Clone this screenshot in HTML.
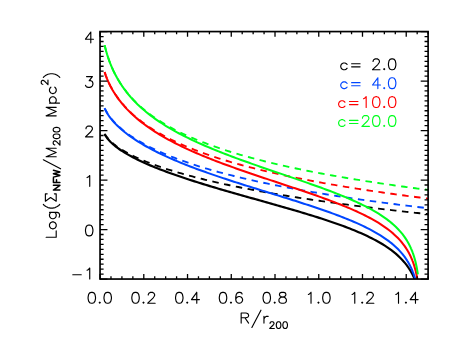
<!DOCTYPE html>
<html><head><meta charset="utf-8"><style>
html,body{margin:0;padding:0;background:#fff;}
svg{display:block;font-family:"Liberation Sans",sans-serif;}
</style></head><body>
<svg width="458" height="343" viewBox="0 0 458 343">
<rect width="458" height="343" fill="#fff"/>
<clipPath id="cp"><rect x="100.05" y="31.58" width="328.05" height="247.47"/></clipPath>
<g clip-path="url(#cp)" stroke-linecap="butt" stroke-linejoin="round">
<path d="M104.61,133.75 L104.87,134.19 L105.97,135.87 L107.06,137.35 L108.15,138.66 L109.25,139.87 L110.34,140.98 L111.44,142.02 L112.53,142.99 L113.62,143.92 L114.72,144.80 L115.81,145.64 L116.90,146.44 L118.00,147.21 L119.09,147.96 L120.18,148.68 L121.28,149.38 L122.37,150.06 L124.56,151.36 L126.74,152.59 L128.93,153.77 L131.12,154.89 L133.30,155.98 L135.49,157.02 L137.68,158.02 L139.87,158.99 L142.05,159.94 L144.24,160.85 L146.43,161.74 L148.61,162.60 L150.80,163.44 L152.99,164.26 L155.17,165.07 L157.36,165.85 L159.55,166.61 L161.74,167.36 L163.92,168.09 L166.11,168.81 L168.30,169.51 L170.48,170.20 L172.67,170.88 L174.86,171.55 L177.04,172.20 L179.23,172.84 L181.42,173.47 L183.61,174.09 L185.79,174.70 L187.98,175.30 L190.17,175.89 L192.35,176.47 L194.54,177.05 L196.73,177.61 L198.91,178.17 L201.10,178.72 L203.29,179.26 L205.48,179.79 L207.66,180.32 L209.85,180.84 L212.04,181.35 L214.22,181.85 L216.41,182.35 L218.60,182.85 L220.78,183.33 L222.97,183.82 L225.16,184.29 L227.35,184.76 L229.53,185.23 L231.72,185.69 L233.91,186.14 L236.09,186.59 L238.28,187.03 L240.47,187.47 L242.65,187.91 L244.84,188.34 L247.03,188.76 L249.22,189.18 L251.40,189.60 L253.59,190.01 L255.78,190.42 L257.96,190.82 L260.15,191.22 L262.34,191.62 L264.52,192.01 L266.71,192.40 L268.90,192.79 L271.09,193.17 L273.27,193.55 L275.46,193.92 L277.65,194.29 L279.83,194.66 L282.02,195.03 L284.21,195.39 L286.39,195.75 L288.58,196.10 L290.77,196.45 L292.96,196.80 L295.14,197.15 L297.33,197.49 L299.52,197.83 L301.70,198.17 L303.89,198.51 L306.08,198.84 L308.26,199.17 L310.45,199.50 L312.64,199.82 L314.83,200.14 L317.01,200.46 L319.20,200.78 L321.39,201.10 L323.57,201.41 L325.76,201.72 L327.95,202.03 L330.13,202.33 L332.32,202.64 L334.51,202.94 L336.70,203.24 L338.88,203.53 L341.07,203.83 L343.26,204.12 L345.44,204.41 L347.63,204.70 L349.82,204.99 L352.00,205.27 L354.19,205.56 L356.38,205.84 L358.57,206.12 L360.75,206.39 L362.94,206.67 L365.13,206.94 L367.31,207.22 L369.50,207.49 L371.69,207.75 L373.87,208.02 L376.06,208.29 L378.25,208.55 L380.44,208.81 L382.62,209.07 L384.81,209.33 L387.00,209.59 L389.18,209.84 L391.37,210.10 L393.56,210.35 L395.74,210.60 L397.93,210.85 L400.12,211.10 L402.31,211.35 L404.49,211.59 L406.68,211.84 L408.87,212.08 L411.05,212.32 L413.24,212.56 L415.43,212.80 L417.61,213.03 L419.80,213.27 L421.99,213.50 L424.18,213.74 L426.36,213.97 L428.55,214.20" stroke="#000000" stroke-dasharray="6.5,5.5" fill="none" stroke-width="1.85"/>
<path d="M104.61,134.27 L104.87,134.73 L105.97,136.46 L107.06,137.97 L108.15,139.33 L109.25,140.57 L110.34,141.72 L111.44,142.80 L112.53,143.81 L113.62,144.77 L114.72,145.68 L115.81,146.56 L116.90,147.40 L118.00,148.21 L119.09,148.99 L120.18,149.75 L121.28,150.49 L122.37,151.20 L124.56,152.57 L126.74,153.88 L128.93,155.13 L131.12,156.33 L133.30,157.49 L135.49,158.61 L137.68,159.70 L139.87,160.75 L142.05,161.77 L144.24,162.77 L146.43,163.74 L148.61,164.69 L150.80,165.62 L152.99,166.53 L155.17,167.43 L157.36,168.30 L159.55,169.16 L161.74,170.00 L163.92,170.84 L166.11,171.65 L168.30,172.46 L170.48,173.25 L172.67,174.03 L174.86,174.80 L177.04,175.56 L179.23,176.32 L181.42,177.06 L183.61,177.79 L185.79,178.52 L187.98,179.24 L190.17,179.95 L192.35,180.66 L194.54,181.35 L196.73,182.05 L198.91,182.73 L201.10,183.41 L203.29,184.09 L205.48,184.76 L207.66,185.42 L209.85,186.08 L212.04,186.74 L214.22,187.39 L216.41,188.04 L218.60,188.69 L220.78,189.33 L222.97,189.97 L225.16,190.60 L227.35,191.23 L229.53,191.87 L231.72,192.49 L233.91,193.12 L236.09,193.74 L238.28,194.36 L240.47,194.98 L242.65,195.60 L244.84,196.22 L247.03,196.84 L249.22,197.45 L251.40,198.07 L253.59,198.68 L255.78,199.30 L257.96,199.91 L260.15,200.52 L262.34,201.14 L264.52,201.75 L266.71,202.37 L268.90,202.98 L271.09,203.60 L273.27,204.22 L275.46,204.84 L277.65,205.46 L279.83,206.08 L282.02,206.70 L284.21,207.33 L286.39,207.96 L288.58,208.59 L290.77,209.22 L292.96,209.86 L295.14,210.50 L297.33,211.15 L299.52,211.79 L301.70,212.45 L303.89,213.10 L306.08,213.76 L308.26,214.43 L310.45,215.10 L312.64,215.78 L314.83,216.46 L317.01,217.15 L319.20,217.84 L321.39,218.55 L323.57,219.26 L325.76,219.98 L327.95,220.70 L330.13,221.44 L332.32,222.19 L334.51,222.94 L336.70,223.71 L338.88,224.49 L341.07,225.28 L343.26,226.08 L345.44,226.90 L347.63,227.73 L349.82,228.58 L352.00,229.45 L354.19,230.33 L356.38,231.24 L358.57,232.16 L360.75,233.11 L362.94,234.08 L365.13,235.07 L367.31,236.10 L369.50,237.15 L371.69,238.24 L373.87,239.37 L376.06,240.53 L378.25,241.74 L380.44,242.99 L382.62,244.30 L384.81,245.67 L387.00,247.10 L389.18,248.61 L391.37,250.20 L393.56,251.89 L395.74,253.68 L397.93,255.61 L400.12,257.68 L402.31,259.94 L404.49,262.41 L406.68,265.16 L406.68,265.16 L406.79,265.31 L406.90,265.45 L407.01,265.60 L407.12,265.75 L407.23,265.90 L407.34,266.05 L407.45,266.20 L407.55,266.35 L407.66,266.50 L407.77,266.66 L407.88,266.81 L407.99,266.97 L408.10,267.13 L408.21,267.28 L408.32,267.44 L408.43,267.60 L408.54,267.76 L408.65,267.93 L408.76,268.09 L408.87,268.25 L408.98,268.42 L409.09,268.59 L409.20,268.75 L409.30,268.92 L409.41,269.09 L409.52,269.26 L409.63,269.44 L409.74,269.61 L409.85,269.79 L409.96,269.96 L410.07,270.14 L410.18,270.32 L410.29,270.50 L410.40,270.68 L410.51,270.86 L410.62,271.05 L410.73,271.23 L410.84,271.42 L410.94,271.61 L411.05,271.80 L411.16,271.99 L411.27,272.19 L411.38,272.38 L411.49,272.58 L411.60,272.78 L411.71,272.98 L411.82,273.18 L411.93,273.38 L412.04,273.59 L412.15,273.80 L412.26,274.01 L412.37,274.22 L412.48,274.43 L412.58,274.64 L412.69,274.86 L412.80,275.08 L412.91,275.30 L413.02,275.52 L413.13,275.75 L413.24,275.98 L413.35,276.20 L413.46,276.44 L413.57,276.67 L413.68,276.91 L413.79,277.15 L413.90,277.39 L414.01,277.63 L414.12,277.88 L414.23,278.13 L414.33,278.38 L414.44,278.63 L414.55,278.89 L414.66,279.15 L414.77,279.42 L414.88,279.68 L414.99,279.95 L415.10,280.22 L415.21,280.50 L415.32,280.78 L415.43,281.06 L415.54,281.35 L415.65,281.64 L415.76,281.93 L415.87,282.23 L415.97,282.53 L416.08,282.84 L416.19,283.15 L416.30,283.46 L416.41,283.78 L416.52,284.10 L416.63,284.43 L416.74,284.76 L416.85,285.10 L416.96,285.44 L417.07,285.79 L417.18,286.14 L417.29,286.50 L417.40,286.86 L417.51,287.23 L417.61,287.61 L417.72,287.99 L417.83,288.38" stroke="#000000" fill="none" stroke-width="2.2"/>
<path d="M104.61,108.10 L104.87,108.67 L105.97,110.82 L107.06,112.72 L108.15,114.44 L109.25,116.02 L110.34,117.48 L111.44,118.86 L112.53,120.16 L113.62,121.39 L114.72,122.57 L115.81,123.70 L116.90,124.78 L118.00,125.82 L119.09,126.82 L120.18,127.80 L121.28,128.74 L122.37,129.65 L124.56,131.40 L126.74,133.07 L128.93,134.65 L131.12,136.16 L133.30,137.61 L135.49,139.01 L137.68,140.35 L139.87,141.64 L142.05,142.89 L144.24,144.10 L146.43,145.28 L148.61,146.41 L150.80,147.52 L152.99,148.59 L155.17,149.64 L157.36,150.66 L159.55,151.65 L161.74,152.62 L163.92,153.56 L166.11,154.49 L168.30,155.39 L170.48,156.27 L172.67,157.14 L174.86,157.98 L177.04,158.81 L179.23,159.63 L181.42,160.42 L183.61,161.20 L185.79,161.97 L187.98,162.72 L190.17,163.46 L192.35,164.19 L194.54,164.90 L196.73,165.60 L198.91,166.29 L201.10,166.97 L203.29,167.64 L205.48,168.30 L207.66,168.95 L209.85,169.58 L212.04,170.21 L214.22,170.83 L216.41,171.44 L218.60,172.04 L220.78,172.63 L222.97,173.21 L225.16,173.79 L227.35,174.36 L229.53,174.92 L231.72,175.47 L233.91,176.02 L236.09,176.56 L238.28,177.09 L240.47,177.61 L242.65,178.13 L244.84,178.65 L247.03,179.15 L249.22,179.65 L251.40,180.15 L253.59,180.64 L255.78,181.12 L257.96,181.60 L260.15,182.07 L262.34,182.54 L264.52,183.00 L266.71,183.46 L268.90,183.91 L271.09,184.36 L273.27,184.80 L275.46,185.24 L277.65,185.67 L279.83,186.10 L282.02,186.53 L284.21,186.95 L286.39,187.37 L288.58,187.78 L290.77,188.19 L292.96,188.59 L295.14,189.00 L297.33,189.39 L299.52,189.79 L301.70,190.18 L303.89,190.56 L306.08,190.95 L308.26,191.33 L310.45,191.70 L312.64,192.08 L314.83,192.45 L317.01,192.81 L319.20,193.18 L321.39,193.54 L323.57,193.89 L325.76,194.25 L327.95,194.60 L330.13,194.95 L332.32,195.29 L334.51,195.64 L336.70,195.98 L338.88,196.32 L341.07,196.65 L343.26,196.98 L345.44,197.31 L347.63,197.64 L349.82,197.96 L352.00,198.29 L354.19,198.61 L356.38,198.92 L358.57,199.24 L360.75,199.55 L362.94,199.86 L365.13,200.17 L367.31,200.48 L369.50,200.78 L371.69,201.08 L373.87,201.38 L376.06,201.68 L378.25,201.98 L380.44,202.27 L382.62,202.56 L384.81,202.85 L387.00,203.14 L389.18,203.42 L391.37,203.71 L393.56,203.99 L395.74,204.27 L397.93,204.55 L400.12,204.83 L402.31,205.10 L404.49,205.37 L406.68,205.64 L408.87,205.91 L411.05,206.18 L413.24,206.45 L415.43,206.71 L417.61,206.98 L419.80,207.24 L421.99,207.50 L424.18,207.75 L426.36,208.01 L428.55,208.27" stroke="#0046ff" stroke-dasharray="6.5,5.5" fill="none" stroke-width="1.85"/>
<path d="M104.61,108.32 L104.87,108.89 L105.97,111.06 L107.06,112.98 L108.15,114.72 L109.25,116.32 L110.34,117.81 L111.44,119.21 L112.53,120.53 L113.62,121.79 L114.72,122.99 L115.81,124.14 L116.90,125.24 L118.00,126.31 L119.09,127.34 L120.18,128.33 L121.28,129.30 L122.37,130.24 L124.56,132.04 L126.74,133.75 L128.93,135.39 L131.12,136.96 L133.30,138.46 L135.49,139.92 L137.68,141.32 L139.87,142.67 L142.05,143.99 L144.24,145.26 L146.43,146.50 L148.61,147.71 L150.80,148.88 L152.99,150.03 L155.17,151.15 L157.36,152.24 L159.55,153.32 L161.74,154.36 L163.92,155.39 L166.11,156.40 L168.30,157.39 L170.48,158.36 L172.67,159.31 L174.86,160.25 L177.04,161.18 L179.23,162.08 L181.42,162.98 L183.61,163.86 L185.79,164.73 L187.98,165.59 L190.17,166.44 L192.35,167.27 L194.54,168.10 L196.73,168.92 L198.91,169.72 L201.10,170.52 L203.29,171.31 L205.48,172.09 L207.66,172.87 L209.85,173.63 L212.04,174.39 L214.22,175.15 L216.41,175.90 L218.60,176.64 L220.78,177.37 L222.97,178.10 L225.16,178.83 L227.35,179.55 L229.53,180.27 L231.72,180.98 L233.91,181.69 L236.09,182.39 L238.28,183.09 L240.47,183.79 L242.65,184.48 L244.84,185.17 L247.03,185.86 L249.22,186.55 L251.40,187.24 L253.59,187.92 L255.78,188.60 L257.96,189.28 L260.15,189.96 L262.34,190.64 L264.52,191.31 L266.71,191.99 L268.90,192.67 L271.09,193.34 L273.27,194.02 L275.46,194.70 L277.65,195.37 L279.83,196.05 L282.02,196.73 L284.21,197.41 L286.39,198.10 L288.58,198.78 L290.77,199.47 L292.96,200.16 L295.14,200.85 L297.33,201.54 L299.52,202.24 L301.70,202.94 L303.89,203.65 L306.08,204.36 L308.26,205.07 L310.45,205.79 L312.64,206.52 L314.83,207.25 L317.01,207.98 L319.20,208.72 L321.39,209.47 L323.57,210.23 L325.76,211.00 L327.95,211.77 L330.13,212.55 L332.32,213.35 L334.51,214.15 L336.70,214.96 L338.88,215.79 L341.07,216.63 L343.26,217.48 L345.44,218.35 L347.63,219.23 L349.82,220.13 L352.00,221.04 L354.19,221.98 L356.38,222.93 L358.57,223.91 L360.75,224.92 L362.94,225.94 L365.13,227.00 L367.31,228.08 L369.50,229.20 L371.69,230.36 L373.87,231.55 L376.06,232.79 L378.25,234.08 L380.44,235.42 L382.62,236.81 L384.81,238.28 L387.00,239.82 L389.18,241.44 L391.37,243.16 L393.56,244.99 L395.74,246.95 L397.93,249.07 L400.12,251.37 L402.31,253.89 L404.49,256.69 L406.68,259.84 L406.68,259.84 L406.79,260.01 L406.90,260.18 L407.01,260.35 L407.12,260.53 L407.23,260.70 L407.34,260.87 L407.45,261.05 L407.55,261.23 L407.66,261.41 L407.77,261.59 L407.88,261.77 L407.99,261.95 L408.10,262.14 L408.21,262.32 L408.32,262.51 L408.43,262.70 L408.54,262.89 L408.65,263.08 L408.76,263.27 L408.87,263.47 L408.98,263.66 L409.09,263.86 L409.20,264.06 L409.30,264.26 L409.41,264.46 L409.52,264.67 L409.63,264.88 L409.74,265.08 L409.85,265.29 L409.96,265.51 L410.07,265.72 L410.18,265.94 L410.29,266.15 L410.40,266.37 L410.51,266.59 L410.62,266.82 L410.73,267.04 L410.84,267.27 L410.94,267.50 L411.05,267.74 L411.16,267.97 L411.27,268.21 L411.38,268.45 L411.49,268.69 L411.60,268.94 L411.71,269.18 L411.82,269.43 L411.93,269.69 L412.04,269.94 L412.15,270.20 L412.26,270.46 L412.37,270.73 L412.48,270.99 L412.58,271.27 L412.69,271.54 L412.80,271.82 L412.91,272.10 L413.02,272.38 L413.13,272.67 L413.24,272.96 L413.35,273.25 L413.46,273.55 L413.57,273.85 L413.68,274.16 L413.79,274.47 L413.90,274.79 L414.01,275.11 L414.12,275.43 L414.23,275.76 L414.33,276.09 L414.44,276.43 L414.55,276.77 L414.66,277.12 L414.77,277.47 L414.88,277.83 L414.99,278.20 L415.10,278.57 L415.21,278.95 L415.32,279.33 L415.43,279.72 L415.54,280.12 L415.65,280.52 L415.76,280.94 L415.87,281.36 L415.97,281.78 L416.08,282.22 L416.19,282.66 L416.30,283.12 L416.41,283.58 L416.52,284.05 L416.63,284.53 L416.74,285.03 L416.85,285.53 L416.96,286.04 L417.07,286.57 L417.18,287.11 L417.29,287.67 L417.40,288.24 L417.51,288.82 L417.61,289.42 L417.72,290.03 L417.83,290.67" stroke="#0046ff" fill="none" stroke-width="2.05"/>
<path d="M104.61,72.06 L104.87,72.87 L105.97,76.00 L107.06,78.79 L108.15,81.33 L109.25,83.66 L110.34,85.84 L111.44,87.88 L112.53,89.80 L113.62,91.63 L114.72,93.36 L115.81,95.01 L116.90,96.60 L118.00,98.11 L119.09,99.58 L120.18,100.98 L121.28,102.34 L122.37,103.65 L124.56,106.15 L126.74,108.50 L128.93,110.72 L131.12,112.83 L133.30,114.83 L135.49,116.74 L137.68,118.56 L139.87,120.31 L142.05,121.98 L144.24,123.59 L146.43,125.15 L148.61,126.64 L150.80,128.09 L152.99,129.48 L155.17,130.84 L157.36,132.15 L159.55,133.42 L161.74,134.65 L163.92,135.85 L166.11,137.01 L168.30,138.15 L170.48,139.25 L172.67,140.33 L174.86,141.38 L177.04,142.40 L179.23,143.40 L181.42,144.38 L183.61,145.34 L185.79,146.27 L187.98,147.19 L190.17,148.08 L192.35,148.96 L194.54,149.82 L196.73,150.66 L198.91,151.49 L201.10,152.30 L203.29,153.09 L205.48,153.87 L207.66,154.64 L209.85,155.39 L212.04,156.14 L214.22,156.86 L216.41,157.58 L218.60,158.28 L220.78,158.97 L222.97,159.66 L225.16,160.33 L227.35,160.99 L229.53,161.64 L231.72,162.28 L233.91,162.91 L236.09,163.53 L238.28,164.14 L240.47,164.75 L242.65,165.34 L244.84,165.93 L247.03,166.51 L249.22,167.08 L251.40,167.65 L253.59,168.21 L255.78,168.76 L257.96,169.30 L260.15,169.84 L262.34,170.37 L264.52,170.89 L266.71,171.41 L268.90,171.92 L271.09,172.42 L273.27,172.92 L275.46,173.41 L277.65,173.90 L279.83,174.38 L282.02,174.86 L284.21,175.33 L286.39,175.80 L288.58,176.26 L290.77,176.72 L292.96,177.17 L295.14,177.61 L297.33,178.06 L299.52,178.49 L301.70,178.93 L303.89,179.36 L306.08,179.78 L308.26,180.20 L310.45,180.62 L312.64,181.03 L314.83,181.44 L317.01,181.84 L319.20,182.25 L321.39,182.64 L323.57,183.04 L325.76,183.43 L327.95,183.81 L330.13,184.20 L332.32,184.58 L334.51,184.95 L336.70,185.33 L338.88,185.70 L341.07,186.06 L343.26,186.43 L345.44,186.79 L347.63,187.14 L349.82,187.50 L352.00,187.85 L354.19,188.20 L356.38,188.54 L358.57,188.89 L360.75,189.23 L362.94,189.57 L365.13,189.90 L367.31,190.23 L369.50,190.56 L371.69,190.89 L373.87,191.22 L376.06,191.54 L378.25,191.86 L380.44,192.18 L382.62,192.49 L384.81,192.81 L387.00,193.12 L389.18,193.43 L391.37,193.73 L393.56,194.04 L395.74,194.34 L397.93,194.64 L400.12,194.94 L402.31,195.23 L404.49,195.53 L406.68,195.82 L408.87,196.11 L411.05,196.40 L413.24,196.68 L415.43,196.97 L417.61,197.25 L419.80,197.53 L421.99,197.81 L424.18,198.09 L426.36,198.36 L428.55,198.64" stroke="#ff0000" stroke-dasharray="6.5,5.5" fill="none" stroke-width="1.85"/>
<path d="M104.61,72.12 L104.87,72.94 L105.97,76.07 L107.06,78.88 L108.15,81.42 L109.25,83.77 L110.34,85.96 L111.44,88.01 L112.53,89.95 L113.62,91.78 L114.72,93.53 L115.81,95.19 L116.90,96.79 L118.00,98.32 L119.09,99.80 L120.18,101.22 L121.28,102.59 L122.37,103.92 L124.56,106.45 L126.74,108.84 L128.93,111.10 L131.12,113.24 L133.30,115.29 L135.49,117.24 L137.68,119.11 L139.87,120.90 L142.05,122.63 L144.24,124.29 L146.43,125.89 L148.61,127.45 L150.80,128.95 L152.99,130.40 L155.17,131.82 L157.36,133.19 L159.55,134.52 L161.74,135.82 L163.92,137.09 L166.11,138.33 L168.30,139.54 L170.48,140.72 L172.67,141.87 L174.86,143.00 L177.04,144.11 L179.23,145.20 L181.42,146.26 L183.61,147.31 L185.79,148.33 L187.98,149.34 L190.17,150.33 L192.35,151.31 L194.54,152.27 L196.73,153.22 L198.91,154.15 L201.10,155.07 L203.29,155.98 L205.48,156.87 L207.66,157.76 L209.85,158.63 L212.04,159.49 L214.22,160.35 L216.41,161.19 L218.60,162.03 L220.78,162.85 L222.97,163.67 L225.16,164.48 L227.35,165.29 L229.53,166.08 L231.72,166.87 L233.91,167.66 L236.09,168.44 L238.28,169.21 L240.47,169.98 L242.65,170.74 L244.84,171.50 L247.03,172.25 L249.22,173.00 L251.40,173.75 L253.59,174.49 L255.78,175.23 L257.96,175.97 L260.15,176.71 L262.34,177.44 L264.52,178.17 L266.71,178.90 L268.90,179.62 L271.09,180.35 L273.27,181.08 L275.46,181.80 L277.65,182.53 L279.83,183.25 L282.02,183.97 L284.21,184.70 L286.39,185.42 L288.58,186.15 L290.77,186.88 L292.96,187.61 L295.14,188.34 L297.33,189.07 L299.52,189.81 L301.70,190.55 L303.89,191.29 L306.08,192.03 L308.26,192.78 L310.45,193.54 L312.64,194.30 L314.83,195.06 L317.01,195.83 L319.20,196.60 L321.39,197.39 L323.57,198.17 L325.76,198.97 L327.95,199.78 L330.13,200.59 L332.32,201.41 L334.51,202.24 L336.70,203.09 L338.88,203.94 L341.07,204.81 L343.26,205.69 L345.44,206.58 L347.63,207.49 L349.82,208.42 L352.00,209.36 L354.19,210.33 L356.38,211.31 L358.57,212.31 L360.75,213.34 L362.94,214.40 L365.13,215.48 L367.31,216.59 L369.50,217.74 L371.69,218.92 L373.87,220.15 L376.06,221.41 L378.25,222.73 L380.44,224.10 L382.62,225.53 L384.81,227.03 L387.00,228.60 L389.18,230.26 L391.37,232.02 L393.56,233.89 L395.74,235.90 L397.93,238.06 L400.12,240.42 L402.31,243.01 L404.49,245.89 L406.68,249.14 L406.68,249.14 L406.79,249.32 L406.90,249.49 L407.01,249.67 L407.12,249.85 L407.23,250.03 L407.34,250.21 L407.45,250.39 L407.55,250.57 L407.66,250.76 L407.77,250.94 L407.88,251.13 L407.99,251.32 L408.10,251.51 L408.21,251.70 L408.32,251.90 L408.43,252.09 L408.54,252.29 L408.65,252.49 L408.76,252.69 L408.87,252.89 L408.98,253.10 L409.09,253.30 L409.20,253.51 L409.30,253.72 L409.41,253.93 L409.52,254.14 L409.63,254.36 L409.74,254.57 L409.85,254.79 L409.96,255.01 L410.07,255.23 L410.18,255.46 L410.29,255.69 L410.40,255.91 L410.51,256.15 L410.62,256.38 L410.73,256.61 L410.84,256.85 L410.94,257.09 L411.05,257.34 L411.16,257.58 L411.27,257.83 L411.38,258.08 L411.49,258.34 L411.60,258.59 L411.71,258.85 L411.82,259.11 L411.93,259.38 L412.04,259.65 L412.15,259.92 L412.26,260.19 L412.37,260.47 L412.48,260.75 L412.58,261.04 L412.69,261.32 L412.80,261.62 L412.91,261.91 L413.02,262.21 L413.13,262.51 L413.24,262.82 L413.35,263.13 L413.46,263.45 L413.57,263.77 L413.68,264.09 L413.79,264.42 L413.90,264.76 L414.01,265.10 L414.12,265.44 L414.23,265.79 L414.33,266.14 L414.44,266.50 L414.55,266.87 L414.66,267.24 L414.77,267.62 L414.88,268.00 L414.99,268.39 L415.10,268.79 L415.21,269.20 L415.32,269.61 L415.43,270.03 L415.54,270.46 L415.65,270.89 L415.76,271.34 L415.87,271.79 L415.97,272.26 L416.08,272.73 L416.19,273.21 L416.30,273.71 L416.41,274.21 L416.52,274.73 L416.63,275.26 L416.74,275.80 L416.85,276.35 L416.96,276.92 L417.07,277.51 L417.18,278.10 L417.29,278.72 L417.40,279.35 L417.51,280.01 L417.61,280.68 L417.72,281.37 L417.83,282.09" stroke="#ff0000" fill="none" stroke-width="2.05"/>
<path d="M104.61,45.18 L104.87,46.28 L105.97,50.49 L107.06,54.24 L108.15,57.63 L109.25,60.73 L110.34,63.60 L111.44,66.27 L112.53,68.76 L113.62,71.11 L114.72,73.34 L115.81,75.44 L116.90,77.44 L118.00,79.35 L119.09,81.17 L120.18,82.92 L121.28,84.60 L122.37,86.21 L124.56,89.26 L126.74,92.10 L128.93,94.76 L131.12,97.26 L133.30,99.63 L135.49,101.87 L137.68,103.99 L139.87,106.02 L142.05,107.95 L144.24,109.80 L146.43,111.58 L148.61,113.28 L150.80,114.91 L152.99,116.49 L155.17,118.01 L157.36,119.48 L159.55,120.90 L161.74,122.27 L163.92,123.60 L166.11,124.89 L168.30,126.15 L170.48,127.36 L172.67,128.55 L174.86,129.70 L177.04,130.82 L179.23,131.91 L181.42,132.98 L183.61,134.02 L185.79,135.04 L187.98,136.03 L190.17,137.00 L192.35,137.95 L194.54,138.87 L196.73,139.78 L198.91,140.67 L201.10,141.54 L203.29,142.40 L205.48,143.23 L207.66,144.05 L209.85,144.86 L212.04,145.65 L214.22,146.43 L216.41,147.19 L218.60,147.94 L220.78,148.68 L222.97,149.40 L225.16,150.11 L227.35,150.81 L229.53,151.50 L231.72,152.18 L233.91,152.85 L236.09,153.51 L238.28,154.16 L240.47,154.79 L242.65,155.42 L244.84,156.04 L247.03,156.65 L249.22,157.26 L251.40,157.85 L253.59,158.44 L255.78,159.01 L257.96,159.58 L260.15,160.15 L262.34,160.70 L264.52,161.25 L266.71,161.79 L268.90,162.33 L271.09,162.86 L273.27,163.38 L275.46,163.89 L277.65,164.40 L279.83,164.91 L282.02,165.40 L284.21,165.90 L286.39,166.38 L288.58,166.86 L290.77,167.34 L292.96,167.81 L295.14,168.27 L297.33,168.73 L299.52,169.19 L301.70,169.64 L303.89,170.09 L306.08,170.53 L308.26,170.97 L310.45,171.40 L312.64,171.83 L314.83,172.25 L317.01,172.67 L319.20,173.09 L321.39,173.50 L323.57,173.91 L325.76,174.31 L327.95,174.71 L330.13,175.11 L332.32,175.50 L334.51,175.89 L336.70,176.27 L338.88,176.66 L341.07,177.04 L343.26,177.41 L345.44,177.78 L347.63,178.15 L349.82,178.52 L352.00,178.88 L354.19,179.24 L356.38,179.60 L358.57,179.95 L360.75,180.31 L362.94,180.65 L365.13,181.00 L367.31,181.34 L369.50,181.68 L371.69,182.02 L373.87,182.36 L376.06,182.69 L378.25,183.02 L380.44,183.34 L382.62,183.67 L384.81,183.99 L387.00,184.31 L389.18,184.63 L391.37,184.94 L393.56,185.26 L395.74,185.57 L397.93,185.88 L400.12,186.18 L402.31,186.49 L404.49,186.79 L406.68,187.09 L408.87,187.39 L411.05,187.68 L413.24,187.97 L415.43,188.27 L417.61,188.56 L419.80,188.84 L421.99,189.13 L424.18,189.41 L426.36,189.70 L428.55,189.98" stroke="#00ff1e" stroke-dasharray="6.5,5.5" fill="none" stroke-width="1.85"/>
<path d="M104.61,45.21 L104.87,46.31 L105.97,50.53 L107.06,54.28 L108.15,57.68 L109.25,60.79 L110.34,63.66 L111.44,66.34 L112.53,68.84 L113.62,71.20 L114.72,73.43 L115.81,75.55 L116.90,77.56 L118.00,79.48 L119.09,81.32 L120.18,83.08 L121.28,84.77 L122.37,86.39 L124.56,89.47 L126.74,92.34 L128.93,95.03 L131.12,97.57 L133.30,99.97 L135.49,102.24 L137.68,104.41 L139.87,106.48 L142.05,108.45 L144.24,110.35 L146.43,112.17 L148.61,113.92 L150.80,115.61 L152.99,117.24 L155.17,118.82 L157.36,120.34 L159.55,121.82 L161.74,123.26 L163.92,124.65 L166.11,126.01 L168.30,127.33 L170.48,128.62 L172.67,129.88 L174.86,131.11 L177.04,132.31 L179.23,133.48 L181.42,134.63 L183.61,135.76 L185.79,136.86 L187.98,137.94 L190.17,139.00 L192.35,140.05 L194.54,141.07 L196.73,142.08 L198.91,143.07 L201.10,144.05 L203.29,145.01 L205.48,145.96 L207.66,146.89 L209.85,147.81 L212.04,148.72 L214.22,149.62 L216.41,150.51 L218.60,151.39 L220.78,152.25 L222.97,153.11 L225.16,153.96 L227.35,154.80 L229.53,155.63 L231.72,156.46 L233.91,157.28 L236.09,158.09 L238.28,158.89 L240.47,159.69 L242.65,160.48 L244.84,161.27 L247.03,162.05 L249.22,162.83 L251.40,163.60 L253.59,164.37 L255.78,165.14 L257.96,165.90 L260.15,166.66 L262.34,167.42 L264.52,168.17 L266.71,168.92 L268.90,169.67 L271.09,170.41 L273.27,171.16 L275.46,171.91 L277.65,172.65 L279.83,173.39 L282.02,174.13 L284.21,174.88 L286.39,175.62 L288.58,176.36 L290.77,177.11 L292.96,177.85 L295.14,178.60 L297.33,179.35 L299.52,180.10 L301.70,180.86 L303.89,181.61 L306.08,182.37 L308.26,183.14 L310.45,183.91 L312.64,184.68 L314.83,185.46 L317.01,186.24 L319.20,187.03 L321.39,187.82 L323.57,188.62 L325.76,189.43 L327.95,190.25 L330.13,191.07 L332.32,191.91 L334.51,192.75 L336.70,193.61 L338.88,194.48 L341.07,195.35 L343.26,196.25 L345.44,197.15 L347.63,198.07 L349.82,199.01 L352.00,199.97 L354.19,200.94 L356.38,201.93 L358.57,202.95 L360.75,203.99 L362.94,205.06 L365.13,206.15 L367.31,207.27 L369.50,208.43 L371.69,209.63 L373.87,210.86 L376.06,212.14 L378.25,213.47 L380.44,214.85 L382.62,216.30 L384.81,217.81 L387.00,219.40 L389.18,221.07 L391.37,222.85 L393.56,224.74 L395.74,226.77 L397.93,228.96 L400.12,231.34 L402.31,233.96 L404.49,236.88 L406.68,240.18 L406.68,240.18 L406.79,240.36 L406.90,240.54 L407.01,240.72 L407.12,240.90 L407.23,241.08 L407.34,241.27 L407.45,241.45 L407.55,241.64 L407.66,241.83 L407.77,242.02 L407.88,242.21 L407.99,242.40 L408.10,242.60 L408.21,242.79 L408.32,242.99 L408.43,243.19 L408.54,243.39 L408.65,243.59 L408.76,243.79 L408.87,244.00 L408.98,244.21 L409.09,244.42 L409.20,244.63 L409.30,244.84 L409.41,245.06 L409.52,245.27 L409.63,245.49 L409.74,245.71 L409.85,245.94 L409.96,246.16 L410.07,246.39 L410.18,246.62 L410.29,246.85 L410.40,247.08 L410.51,247.32 L410.62,247.56 L410.73,247.80 L410.84,248.04 L410.94,248.29 L411.05,248.54 L411.16,248.79 L411.27,249.04 L411.38,249.30 L411.49,249.56 L411.60,249.82 L411.71,250.09 L411.82,250.35 L411.93,250.63 L412.04,250.90 L412.15,251.18 L412.26,251.46 L412.37,251.75 L412.48,252.03 L412.58,252.33 L412.69,252.62 L412.80,252.92 L412.91,253.22 L413.02,253.53 L413.13,253.84 L413.24,254.16 L413.35,254.48 L413.46,254.80 L413.57,255.13 L413.68,255.47 L413.79,255.81 L413.90,256.15 L414.01,256.50 L414.12,256.86 L414.23,257.22 L414.33,257.58 L414.44,257.96 L414.55,258.33 L414.66,258.72 L414.77,259.11 L414.88,259.51 L414.99,259.91 L415.10,260.33 L415.21,260.75 L415.32,261.18 L415.43,261.61 L415.54,262.06 L415.65,262.51 L415.76,262.97 L415.87,263.45 L415.97,263.93 L416.08,264.42 L416.19,264.93 L416.30,265.45 L416.41,265.98 L416.52,266.52 L416.63,267.07 L416.74,267.64 L416.85,268.23 L416.96,268.83 L417.07,269.44 L417.18,270.08 L417.29,270.73 L417.40,271.40 L417.51,272.09 L417.61,272.81 L417.72,273.55 L417.83,274.31" stroke="#00ff1e" fill="none" stroke-width="2.05"/>
</g>
<rect x="100.05" y="31.58" width="328.05" height="247.47" fill="none" stroke="#000" stroke-width="1.68"/>
<path d="M100.05,279.05 v-5.10 M100.05,31.58 v5.10 M110.98,279.05 v-2.70 M110.98,31.58 v2.70 M121.92,279.05 v-2.70 M121.92,31.58 v2.70 M132.86,279.05 v-2.70 M132.86,31.58 v2.70 M143.79,279.05 v-5.10 M143.79,31.58 v5.10 M154.72,279.05 v-2.70 M154.72,31.58 v2.70 M165.66,279.05 v-2.70 M165.66,31.58 v2.70 M176.59,279.05 v-2.70 M176.59,31.58 v2.70 M187.53,279.05 v-5.10 M187.53,31.58 v5.10 M198.47,279.05 v-2.70 M198.47,31.58 v2.70 M209.40,279.05 v-2.70 M209.40,31.58 v2.70 M220.34,279.05 v-2.70 M220.34,31.58 v2.70 M231.27,279.05 v-5.10 M231.27,31.58 v5.10 M242.20,279.05 v-2.70 M242.20,31.58 v2.70 M253.14,279.05 v-2.70 M253.14,31.58 v2.70 M264.07,279.05 v-2.70 M264.07,31.58 v2.70 M275.01,279.05 v-5.10 M275.01,31.58 v5.10 M285.94,279.05 v-2.70 M285.94,31.58 v2.70 M296.88,279.05 v-2.70 M296.88,31.58 v2.70 M307.81,279.05 v-2.70 M307.81,31.58 v2.70 M318.75,279.05 v-5.10 M318.75,31.58 v5.10 M329.69,279.05 v-2.70 M329.69,31.58 v2.70 M340.62,279.05 v-2.70 M340.62,31.58 v2.70 M351.56,279.05 v-2.70 M351.56,31.58 v2.70 M362.49,279.05 v-5.10 M362.49,31.58 v5.10 M373.43,279.05 v-2.70 M373.43,31.58 v2.70 M384.36,279.05 v-2.70 M384.36,31.58 v2.70 M395.30,279.05 v-2.70 M395.30,31.58 v2.70 M406.23,279.05 v-5.10 M406.23,31.58 v5.10 M417.17,279.05 v-2.70 M417.17,31.58 v2.70 M428.10,279.05 v-2.70 M428.10,31.58 v2.70 M100.05,279.05 h7.40 M428.10,279.05 h-7.40 M100.05,274.10 h3.55 M428.10,274.10 h-3.55 M100.05,269.15 h3.55 M428.10,269.15 h-3.55 M100.05,264.20 h3.55 M428.10,264.20 h-3.55 M100.05,259.25 h3.55 M428.10,259.25 h-3.55 M100.05,254.30 h3.55 M428.10,254.30 h-3.55 M100.05,249.35 h3.55 M428.10,249.35 h-3.55 M100.05,244.40 h3.55 M428.10,244.40 h-3.55 M100.05,239.45 h3.55 M428.10,239.45 h-3.55 M100.05,234.51 h3.55 M428.10,234.51 h-3.55 M100.05,229.56 h7.40 M428.10,229.56 h-7.40 M100.05,224.61 h3.55 M428.10,224.61 h-3.55 M100.05,219.66 h3.55 M428.10,219.66 h-3.55 M100.05,214.71 h3.55 M428.10,214.71 h-3.55 M100.05,209.76 h3.55 M428.10,209.76 h-3.55 M100.05,204.81 h3.55 M428.10,204.81 h-3.55 M100.05,199.86 h3.55 M428.10,199.86 h-3.55 M100.05,194.91 h3.55 M428.10,194.91 h-3.55 M100.05,189.96 h3.55 M428.10,189.96 h-3.55 M100.05,185.01 h3.55 M428.10,185.01 h-3.55 M100.05,180.06 h7.40 M428.10,180.06 h-7.40 M100.05,175.11 h3.55 M428.10,175.11 h-3.55 M100.05,170.16 h3.55 M428.10,170.16 h-3.55 M100.05,165.21 h3.55 M428.10,165.21 h-3.55 M100.05,160.26 h3.55 M428.10,160.26 h-3.55 M100.05,155.31 h3.55 M428.10,155.31 h-3.55 M100.05,150.37 h3.55 M428.10,150.37 h-3.55 M100.05,145.42 h3.55 M428.10,145.42 h-3.55 M100.05,140.47 h3.55 M428.10,140.47 h-3.55 M100.05,135.52 h3.55 M428.10,135.52 h-3.55 M100.05,130.57 h7.40 M428.10,130.57 h-7.40 M100.05,125.62 h3.55 M428.10,125.62 h-3.55 M100.05,120.67 h3.55 M428.10,120.67 h-3.55 M100.05,115.72 h3.55 M428.10,115.72 h-3.55 M100.05,110.77 h3.55 M428.10,110.77 h-3.55 M100.05,105.82 h3.55 M428.10,105.82 h-3.55 M100.05,100.87 h3.55 M428.10,100.87 h-3.55 M100.05,95.92 h3.55 M428.10,95.92 h-3.55 M100.05,90.97 h3.55 M428.10,90.97 h-3.55 M100.05,86.02 h3.55 M428.10,86.02 h-3.55 M100.05,81.07 h7.40 M428.10,81.07 h-7.40 M100.05,76.12 h3.55 M428.10,76.12 h-3.55 M100.05,71.18 h3.55 M428.10,71.18 h-3.55 M100.05,66.23 h3.55 M428.10,66.23 h-3.55 M100.05,61.28 h3.55 M428.10,61.28 h-3.55 M100.05,56.33 h3.55 M428.10,56.33 h-3.55 M100.05,51.38 h3.55 M428.10,51.38 h-3.55 M100.05,46.43 h3.55 M428.10,46.43 h-3.55 M100.05,41.48 h3.55 M428.10,41.48 h-3.55 M100.05,36.53 h3.55 M428.10,36.53 h-3.55 M100.05,31.58 h7.40 M428.10,31.58 h-7.40" stroke="#000" stroke-width="1.3" fill="none"/>
<path transform="translate(99.75,303.20)" d="M-8.48,-10.81 -7.42,-10.81 -5.83,-10.30 -4.77,-8.76 -4.24,-6.18 -4.24,-4.63 -4.77,-2.06 -5.83,-0.52 -7.42,-0.00 -8.48,-0.00 -10.07,-0.52 -11.13,-2.06 -11.66,-4.63 -11.66,-6.18 -11.13,-8.76 -10.07,-10.30Z M-8.48,-10.81 -10.07,-10.30 -11.13,-8.76 -11.66,-6.18 -11.66,-4.63 -11.13,-2.06 -10.07,-0.52 -8.48,-0.00 -7.42,-0.00 -5.83,-0.52 -4.77,-2.06 -4.24,-4.63 -4.24,-6.18 -4.77,-8.76 -5.83,-10.30 -7.42,-10.81Z M0.00,-1.03 0.53,-0.52 0.00,-0.00 -0.53,-0.52Z M0.00,-1.03 -0.53,-0.52 0.00,-0.00 0.53,-0.52Z M7.42,-10.81 8.48,-10.81 10.07,-10.30 11.13,-8.76 11.66,-6.18 11.66,-4.63 11.13,-2.06 10.07,-0.52 8.48,-0.00 7.42,-0.00 5.83,-0.52 4.77,-2.06 4.24,-4.63 4.24,-6.18 4.77,-8.76 5.83,-10.30Z M7.42,-10.81 5.83,-10.30 4.77,-8.76 4.24,-6.18 4.24,-4.63 4.77,-2.06 5.83,-0.52 7.42,-0.00 8.48,-0.00 10.07,-0.52 11.13,-2.06 11.66,-4.63 11.66,-6.18 11.13,-8.76 10.07,-10.30 8.48,-10.81Z" stroke="#000" stroke-width="1.15" fill="none" stroke-linecap="round" stroke-linejoin="round"/>
<path transform="translate(143.49,303.20)" d="M-8.48,-10.81 -7.42,-10.81 -5.83,-10.30 -4.77,-8.76 -4.24,-6.18 -4.24,-4.63 -4.77,-2.06 -5.83,-0.52 -7.42,-0.00 -8.48,-0.00 -10.07,-0.52 -11.13,-2.06 -11.66,-4.63 -11.66,-6.18 -11.13,-8.76 -10.07,-10.30Z M-8.48,-10.81 -10.07,-10.30 -11.13,-8.76 -11.66,-6.18 -11.66,-4.63 -11.13,-2.06 -10.07,-0.52 -8.48,-0.00 -7.42,-0.00 -5.83,-0.52 -4.77,-2.06 -4.24,-4.63 -4.24,-6.18 -4.77,-8.76 -5.83,-10.30 -7.42,-10.81Z M0.00,-1.03 0.53,-0.52 0.00,-0.00 -0.53,-0.52Z M0.00,-1.03 -0.53,-0.52 0.00,-0.00 0.53,-0.52Z M6.89,-10.81 5.83,-10.30 5.30,-9.79 4.77,-8.76 4.77,-8.24 4.77,-8.76 5.30,-9.79 5.83,-10.30 6.89,-10.81 9.01,-10.81 10.07,-10.30 10.60,-9.79 11.13,-8.76 11.13,-7.73 10.60,-6.70 9.54,-5.15 4.24,-0.00 11.66,-0.00 4.24,-0.00 9.54,-5.15 10.60,-6.70 11.13,-7.73 11.13,-8.76 10.60,-9.79 10.07,-10.30 9.01,-10.81Z" stroke="#000" stroke-width="1.15" fill="none" stroke-linecap="round" stroke-linejoin="round"/>
<path transform="translate(187.23,303.20)" d="M-8.48,-10.81 -7.42,-10.81 -5.83,-10.30 -4.77,-8.76 -4.24,-6.18 -4.24,-4.63 -4.77,-2.06 -5.83,-0.52 -7.42,-0.00 -8.48,-0.00 -10.07,-0.52 -11.13,-2.06 -11.66,-4.63 -11.66,-6.18 -11.13,-8.76 -10.07,-10.30Z M-8.48,-10.81 -10.07,-10.30 -11.13,-8.76 -11.66,-6.18 -11.66,-4.63 -11.13,-2.06 -10.07,-0.52 -8.48,-0.00 -7.42,-0.00 -5.83,-0.52 -4.77,-2.06 -4.24,-4.63 -4.24,-6.18 -4.77,-8.76 -5.83,-10.30 -7.42,-10.81Z M0.00,-1.03 0.53,-0.52 0.00,-0.00 -0.53,-0.52Z M0.00,-1.03 -0.53,-0.52 0.00,-0.00 0.53,-0.52Z M9.54,-10.81 9.54,-3.60 4.24,-3.60Z M9.54,-10.81 4.24,-3.60 9.54,-3.60 9.54,-0.00 9.54,-3.60 12.19,-3.60 9.54,-3.60Z" stroke="#000" stroke-width="1.15" fill="none" stroke-linecap="round" stroke-linejoin="round"/>
<path transform="translate(230.97,303.20)" d="M-8.48,-10.81 -7.42,-10.81 -5.83,-10.30 -4.77,-8.76 -4.24,-6.18 -4.24,-4.63 -4.77,-2.06 -5.83,-0.52 -7.42,-0.00 -8.48,-0.00 -10.07,-0.52 -11.13,-2.06 -11.66,-4.63 -11.66,-6.18 -11.13,-8.76 -10.07,-10.30Z M-8.48,-10.81 -10.07,-10.30 -11.13,-8.76 -11.66,-6.18 -11.66,-4.63 -11.13,-2.06 -10.07,-0.52 -8.48,-0.00 -7.42,-0.00 -5.83,-0.52 -4.77,-2.06 -4.24,-4.63 -4.24,-6.18 -4.77,-8.76 -5.83,-10.30 -7.42,-10.81Z M0.00,-1.03 0.53,-0.52 0.00,-0.00 -0.53,-0.52Z M0.00,-1.03 -0.53,-0.52 0.00,-0.00 0.53,-0.52Z M7.95,-6.70 8.48,-6.70 10.07,-6.18 11.13,-5.15 11.66,-3.60 11.66,-3.09 11.13,-1.54 10.07,-0.52 8.48,-0.00 7.95,-0.00 6.36,-0.52 5.30,-1.54 4.77,-3.60 5.30,-5.15 6.36,-6.18Z M7.95,-10.81 9.01,-10.81 10.60,-10.30 11.13,-9.27 10.60,-10.30 9.01,-10.81 7.95,-10.81 6.36,-10.30 5.30,-8.76 4.77,-6.18 4.77,-3.60 5.30,-1.54 6.36,-0.52 7.95,-0.00 8.48,-0.00 10.07,-0.52 11.13,-1.54 11.66,-3.09 11.66,-3.60 11.13,-5.15 10.07,-6.18 8.48,-6.70 7.95,-6.70 6.36,-6.18 5.30,-5.15 4.77,-3.86 4.77,-6.18 5.30,-8.76 6.36,-10.30Z" stroke="#000" stroke-width="1.15" fill="none" stroke-linecap="round" stroke-linejoin="round"/>
<path transform="translate(274.71,303.20)" d="M-8.48,-10.81 -7.42,-10.81 -5.83,-10.30 -4.77,-8.76 -4.24,-6.18 -4.24,-4.63 -4.77,-2.06 -5.83,-0.52 -7.42,-0.00 -8.48,-0.00 -10.07,-0.52 -11.13,-2.06 -11.66,-4.63 -11.66,-6.18 -11.13,-8.76 -10.07,-10.30Z M-8.48,-10.81 -10.07,-10.30 -11.13,-8.76 -11.66,-6.18 -11.66,-4.63 -11.13,-2.06 -10.07,-0.52 -8.48,-0.00 -7.42,-0.00 -5.83,-0.52 -4.77,-2.06 -4.24,-4.63 -4.24,-6.18 -4.77,-8.76 -5.83,-10.30 -7.42,-10.81Z M0.00,-1.03 0.53,-0.52 0.00,-0.00 -0.53,-0.52Z M0.00,-1.03 -0.53,-0.52 0.00,-0.00 0.53,-0.52Z M5.83,-5.67 7.95,-6.18 10.07,-5.67 11.13,-4.63 11.66,-3.60 11.66,-2.06 11.13,-1.03 10.60,-0.52 9.01,-0.00 6.89,-0.00 5.30,-0.52 4.77,-1.03 4.24,-2.06 4.24,-3.60 4.77,-4.63Z M4.77,-9.27 5.30,-10.30 6.89,-10.81 9.01,-10.81 10.60,-10.30 11.13,-9.27 11.13,-8.24 10.60,-7.21 9.54,-6.70 7.95,-6.18 6.36,-6.70 5.30,-7.21 4.77,-8.24Z M6.89,-10.81 5.30,-10.30 4.77,-9.27 4.77,-8.24 5.30,-7.21 6.36,-6.70 7.95,-6.18 5.83,-5.67 4.77,-4.63 4.24,-3.60 4.24,-2.06 4.77,-1.03 5.30,-0.52 6.89,-0.00 9.01,-0.00 10.60,-0.52 11.13,-1.03 11.66,-2.06 11.66,-3.60 11.13,-4.63 10.07,-5.67 7.95,-6.18 9.54,-6.70 10.60,-7.21 11.13,-8.24 11.13,-9.27 10.60,-10.30 9.01,-10.81Z" stroke="#000" stroke-width="1.15" fill="none" stroke-linecap="round" stroke-linejoin="round"/>
<path transform="translate(318.45,303.20)" d="M-7.42,-10.81 -9.01,-9.27 -10.07,-8.76 -9.01,-9.27 -7.42,-10.81 -7.42,-0.00Z M0.00,-1.03 0.53,-0.52 0.00,-0.00 -0.53,-0.52Z M0.00,-1.03 -0.53,-0.52 0.00,-0.00 0.53,-0.52Z M7.42,-10.81 8.48,-10.81 10.07,-10.30 11.13,-8.76 11.66,-6.18 11.66,-4.63 11.13,-2.06 10.07,-0.52 8.48,-0.00 7.42,-0.00 5.83,-0.52 4.77,-2.06 4.24,-4.63 4.24,-6.18 4.77,-8.76 5.83,-10.30Z M7.42,-10.81 5.83,-10.30 4.77,-8.76 4.24,-6.18 4.24,-4.63 4.77,-2.06 5.83,-0.52 7.42,-0.00 8.48,-0.00 10.07,-0.52 11.13,-2.06 11.66,-4.63 11.66,-6.18 11.13,-8.76 10.07,-10.30 8.48,-10.81Z" stroke="#000" stroke-width="1.15" fill="none" stroke-linecap="round" stroke-linejoin="round"/>
<path transform="translate(362.19,303.20)" d="M-7.42,-10.81 -9.01,-9.27 -10.07,-8.76 -9.01,-9.27 -7.42,-10.81 -7.42,-0.00Z M0.00,-1.03 0.53,-0.52 0.00,-0.00 -0.53,-0.52Z M0.00,-1.03 -0.53,-0.52 0.00,-0.00 0.53,-0.52Z M6.89,-10.81 5.83,-10.30 5.30,-9.79 4.77,-8.76 4.77,-8.24 4.77,-8.76 5.30,-9.79 5.83,-10.30 6.89,-10.81 9.01,-10.81 10.07,-10.30 10.60,-9.79 11.13,-8.76 11.13,-7.73 10.60,-6.70 9.54,-5.15 4.24,-0.00 11.66,-0.00 4.24,-0.00 9.54,-5.15 10.60,-6.70 11.13,-7.73 11.13,-8.76 10.60,-9.79 10.07,-10.30 9.01,-10.81Z" stroke="#000" stroke-width="1.15" fill="none" stroke-linecap="round" stroke-linejoin="round"/>
<path transform="translate(405.93,303.20)" d="M-7.42,-10.81 -9.01,-9.27 -10.07,-8.76 -9.01,-9.27 -7.42,-10.81 -7.42,-0.00Z M0.00,-1.03 0.53,-0.52 0.00,-0.00 -0.53,-0.52Z M0.00,-1.03 -0.53,-0.52 0.00,-0.00 0.53,-0.52Z M9.54,-10.81 9.54,-3.60 4.24,-3.60Z M9.54,-10.81 4.24,-3.60 9.54,-3.60 9.54,-0.00 9.54,-3.60 12.19,-3.60 9.54,-3.60Z" stroke="#000" stroke-width="1.15" fill="none" stroke-linecap="round" stroke-linejoin="round"/>
<path transform="translate(94.50,42.81)" d="M-3.71,-10.81 -3.71,-3.60 -9.01,-3.60Z M-3.71,-10.81 -9.01,-3.60 -3.71,-3.60 -3.71,-0.00 -3.71,-3.60 -1.06,-3.60 -3.71,-3.60Z" stroke="#000" stroke-width="1.15" fill="none" stroke-linecap="round" stroke-linejoin="round"/>
<path transform="translate(94.50,87.37)" d="M-7.95,-10.81 -2.12,-10.81 -5.30,-6.70 -3.71,-6.70 -2.65,-6.18 -2.12,-5.67 -1.59,-4.12 -1.59,-3.09 -2.12,-1.54 -3.18,-0.52 -4.77,-0.00 -6.36,-0.00 -7.95,-0.52 -8.48,-1.03 -9.01,-2.06 -8.48,-1.03 -7.95,-0.52 -6.36,-0.00 -4.77,-0.00 -3.18,-0.52 -2.12,-1.54 -1.59,-3.09 -1.59,-4.12 -2.12,-5.67 -2.65,-6.18 -3.71,-6.70 -5.30,-6.70 -2.12,-10.81Z" stroke="#000" stroke-width="1.15" fill="none" stroke-linecap="round" stroke-linejoin="round"/>
<path transform="translate(94.50,136.87)" d="M-6.36,-10.81 -7.42,-10.30 -7.95,-9.79 -8.48,-8.76 -8.48,-8.24 -8.48,-8.76 -7.95,-9.79 -7.42,-10.30 -6.36,-10.81 -4.24,-10.81 -3.18,-10.30 -2.65,-9.79 -2.12,-8.76 -2.12,-7.73 -2.65,-6.70 -3.71,-5.15 -9.01,-0.00 -1.59,-0.00 -9.01,-0.00 -3.71,-5.15 -2.65,-6.70 -2.12,-7.73 -2.12,-8.76 -2.65,-9.79 -3.18,-10.30 -4.24,-10.81Z" stroke="#000" stroke-width="1.15" fill="none" stroke-linecap="round" stroke-linejoin="round"/>
<path transform="translate(94.50,186.36)" d="M-4.77,-10.81 -6.36,-9.27 -7.42,-8.76 -6.36,-9.27 -4.77,-10.81 -4.77,-0.00Z" stroke="#000" stroke-width="1.15" fill="none" stroke-linecap="round" stroke-linejoin="round"/>
<path transform="translate(94.50,235.86)" d="M-5.83,-10.81 -4.77,-10.81 -3.18,-10.30 -2.12,-8.76 -1.59,-6.18 -1.59,-4.63 -2.12,-2.06 -3.18,-0.52 -4.77,-0.00 -5.83,-0.00 -7.42,-0.52 -8.48,-2.06 -9.01,-4.63 -9.01,-6.18 -8.48,-8.76 -7.42,-10.30Z M-5.83,-10.81 -7.42,-10.30 -8.48,-8.76 -9.01,-6.18 -9.01,-4.63 -8.48,-2.06 -7.42,-0.52 -5.83,-0.00 -4.77,-0.00 -3.18,-0.52 -2.12,-2.06 -1.59,-4.63 -1.59,-6.18 -2.12,-8.76 -3.18,-10.30 -4.77,-10.81Z" stroke="#000" stroke-width="1.15" fill="none" stroke-linecap="round" stroke-linejoin="round"/>
<path transform="translate(94.50,279.00)" d="M-21.73,-4.22 -13.25,-4.22 M-4.77,-10.81 -6.36,-9.27 -7.42,-8.76 -6.36,-9.27 -4.77,-10.81 -4.77,-0.00Z" stroke="#000" stroke-width="1.15" fill="none" stroke-linecap="round" stroke-linejoin="round"/>
<path transform="translate(263.75,323.05)" d="M-22.58,-10.06 -17.81,-10.06 -16.22,-9.58 -15.69,-9.10 -15.16,-8.14 -15.16,-7.18 -15.69,-6.23 -16.22,-5.75 -17.81,-5.27 -22.58,-5.27Z M-22.58,-10.06 -22.58,-0.00 -22.58,-5.27 -18.87,-5.27 -15.16,-0.00 -18.87,-5.27 -17.81,-5.27 -16.22,-5.75 -15.69,-6.23 -15.16,-7.18 -15.16,-8.14 -15.69,-9.10 -16.22,-9.58 -17.81,-10.06Z M-2.81,-12.88 -11.87,4.38 M4.45,-6.71 2.86,-6.71 1.80,-6.23 0.74,-5.27 0.21,-3.83 0.21,-6.71 0.21,-0.00 0.21,-3.83 0.74,-5.27 1.80,-6.23 2.86,-6.71Z M7.61,-1.30 6.95,-0.98 6.62,-0.66 6.30,-0.02 6.30,0.30 6.30,-0.02 6.62,-0.66 6.95,-0.98 7.61,-1.30 8.93,-1.30 9.58,-0.98 9.91,-0.66 10.24,-0.02 10.24,0.62 9.91,1.26 9.25,2.21 5.97,5.41 10.57,5.41 5.97,5.41 9.25,2.21 9.91,1.26 10.24,0.62 10.24,-0.02 9.91,-0.66 9.58,-0.98 8.93,-1.30Z M14.51,-1.30 15.17,-1.30 16.15,-0.98 16.81,-0.02 17.14,1.58 17.14,2.53 16.81,4.13 16.15,5.09 15.17,5.41 14.51,5.41 13.53,5.09 12.87,4.13 12.54,2.53 12.54,1.58 12.87,-0.02 13.53,-0.98Z M14.51,-1.30 13.53,-0.98 12.87,-0.02 12.54,1.58 12.54,2.53 12.87,4.13 13.53,5.09 14.51,5.41 15.17,5.41 16.15,5.09 16.81,4.13 17.14,2.53 17.14,1.58 16.81,-0.02 16.15,-0.98 15.17,-1.30Z M21.08,-1.30 21.74,-1.30 22.73,-0.98 23.38,-0.02 23.71,1.58 23.71,2.53 23.38,4.13 22.73,5.09 21.74,5.41 21.08,5.41 20.10,5.09 19.44,4.13 19.11,2.53 19.11,1.58 19.44,-0.02 20.10,-0.98Z M21.08,-1.30 20.10,-0.98 19.44,-0.02 19.11,1.58 19.11,2.53 19.44,4.13 20.10,5.09 21.08,5.41 21.74,5.41 22.73,5.09 23.38,4.13 23.71,2.53 23.71,1.58 23.38,-0.02 22.73,-0.98 21.74,-1.30Z" stroke="#000" stroke-width="1.15" fill="none" stroke-linecap="round" stroke-linejoin="round"/>
<path transform="translate(56.20,239.40) rotate(-90)" d="M2.12,-10.06 2.12,-0.00 8.48,-0.00 2.12,-0.00Z M13.25,-6.71 14.84,-6.71 15.90,-6.23 16.96,-5.27 17.49,-3.83 17.49,-2.87 16.96,-1.44 15.90,-0.48 14.84,-0.00 13.25,-0.00 12.19,-0.48 11.13,-1.44 10.60,-2.87 10.60,-3.83 11.13,-5.27 12.19,-6.23Z M13.25,-6.71 12.19,-6.23 11.13,-5.27 10.60,-3.83 10.60,-2.87 11.13,-1.44 12.19,-0.48 13.25,-0.00 14.84,-0.00 15.90,-0.48 16.96,-1.44 17.49,-2.87 17.49,-3.83 16.96,-5.27 15.90,-6.23 14.84,-6.71Z M23.32,-6.71 24.91,-6.71 25.97,-6.23 27.03,-5.27 27.03,-1.44 25.97,-0.48 24.91,-0.00 23.32,-0.00 22.26,-0.48 21.20,-1.44 20.67,-2.87 20.67,-3.83 21.20,-5.27 22.26,-6.23Z M27.03,-6.71 27.03,-5.27 25.97,-6.23 24.91,-6.71 23.32,-6.71 22.26,-6.23 21.20,-5.27 20.67,-3.83 20.67,-2.87 21.20,-1.44 22.26,-0.48 23.32,-0.00 24.91,-0.00 25.97,-0.48 27.03,-1.44 27.03,0.96 26.50,2.39 25.97,2.87 24.91,3.35 23.32,3.35 22.26,2.87 23.32,3.35 24.91,3.35 25.97,2.87 26.50,2.39 27.03,0.96Z M34.98,-12.88 33.92,-11.85 32.86,-10.30 31.80,-8.24 31.27,-5.67 31.27,-3.60 31.80,-1.03 32.86,1.03 33.92,2.58 34.98,3.60 33.92,2.58 32.86,1.03 31.80,-1.03 31.27,-3.60 31.27,-5.67 31.80,-8.24 32.86,-10.30 33.92,-11.85Z M45.58,-9.01 45.58,-10.81 38.16,-10.81 41.87,-5.67 38.16,-0.00 45.58,-0.00 45.58,-1.80 M79.64,-12.88 70.58,4.38 M82.66,-10.06 82.66,-0.00 82.66,-10.06 86.90,-0.00 91.14,-10.06 91.14,-0.00 91.14,-10.06 86.90,-0.00Z M95.89,-3.00 95.23,-2.68 94.91,-2.36 94.58,-1.72 94.58,-1.40 94.58,-1.72 94.91,-2.36 95.23,-2.68 95.89,-3.00 97.21,-3.00 97.86,-2.68 98.19,-2.36 98.52,-1.72 98.52,-1.08 98.19,-0.44 97.53,0.52 94.25,3.71 98.85,3.71 94.25,3.71 97.53,0.52 98.19,-0.44 98.52,-1.08 98.52,-1.72 98.19,-2.36 97.86,-2.68 97.21,-3.00Z M102.79,-3.00 103.45,-3.00 104.44,-2.68 105.09,-1.72 105.42,-0.12 105.42,0.83 105.09,2.43 104.44,3.39 103.45,3.71 102.79,3.71 101.81,3.39 101.15,2.43 100.82,0.83 100.82,-0.12 101.15,-1.72 101.81,-2.68Z M102.79,-3.00 101.81,-2.68 101.15,-1.72 100.82,-0.12 100.82,0.83 101.15,2.43 101.81,3.39 102.79,3.71 103.45,3.71 104.44,3.39 105.09,2.43 105.42,0.83 105.42,-0.12 105.09,-1.72 104.44,-2.68 103.45,-3.00Z M109.36,-3.00 110.02,-3.00 111.01,-2.68 111.66,-1.72 111.99,-0.12 111.99,0.83 111.66,2.43 111.01,3.39 110.02,3.71 109.36,3.71 108.38,3.39 107.72,2.43 107.39,0.83 107.39,-0.12 107.72,-1.72 108.38,-2.68Z M109.36,-3.00 108.38,-2.68 107.72,-1.72 107.39,-0.12 107.39,0.83 107.72,2.43 108.38,3.39 109.36,3.71 110.02,3.71 111.01,3.39 111.66,2.43 111.99,0.83 111.99,-0.12 111.66,-1.72 111.01,-2.68 110.02,-3.00Z M123.58,-10.06 123.58,-0.00 123.58,-10.06 127.82,-0.00 132.06,-10.06 132.06,-0.00 132.06,-10.06 127.82,-0.00Z M138.42,-6.71 140.01,-6.71 141.07,-6.23 142.13,-5.27 142.66,-3.83 142.66,-2.87 142.13,-1.44 141.07,-0.48 140.01,-0.00 138.42,-0.00 137.36,-0.48 136.30,-1.44 136.30,-5.27 137.36,-6.23Z M140.01,-6.71 138.42,-6.71 137.36,-6.23 136.30,-5.27 136.30,-6.71 136.30,3.35 136.30,-1.44 137.36,-0.48 138.42,-0.00 140.01,-0.00 141.07,-0.48 142.13,-1.44 142.66,-2.87 142.66,-3.83 142.13,-5.27 141.07,-6.23Z M148.49,-6.71 150.08,-6.71 151.14,-6.23 152.20,-5.27 151.14,-6.23 150.08,-6.71 148.49,-6.71 147.43,-6.23 146.37,-5.27 145.84,-3.83 145.84,-2.87 146.37,-1.44 147.43,-0.48 148.49,-0.00 150.08,-0.00 151.14,-0.48 152.20,-1.44 151.14,-0.48 150.08,-0.00 148.49,-0.00 147.43,-0.48 146.37,-1.44 145.84,-2.87 145.84,-3.83 146.37,-5.27 147.43,-6.23Z M156.42,-14.95 155.76,-14.63 155.43,-14.31 155.10,-13.67 155.10,-13.35 155.10,-13.67 155.43,-14.31 155.76,-14.63 156.42,-14.95 157.73,-14.95 158.39,-14.63 158.72,-14.31 159.05,-13.67 159.05,-13.03 158.72,-12.39 158.06,-11.43 154.77,-8.24 159.37,-8.24 154.77,-8.24 158.06,-11.43 158.72,-12.39 159.05,-13.03 159.05,-13.67 158.72,-14.31 158.39,-14.63 157.73,-14.95Z M161.95,-12.88 163.01,-11.85 164.07,-10.30 165.13,-8.24 165.66,-5.67 165.66,-3.60 165.13,-1.03 164.07,1.03 163.01,2.58 161.95,3.60 163.01,2.58 164.07,1.03 165.13,-1.03 165.66,-3.60 165.66,-5.67 165.13,-8.24 164.07,-10.30 163.01,-11.85Z" stroke="#000" stroke-width="1.15" fill="none" stroke-linecap="round" stroke-linejoin="round"/>
<path transform="translate(56.20,239.40) rotate(-90)" d="M49.28,-2.78 49.28,3.71 49.28,-2.78 54.06,3.71 54.06,-2.78 54.06,3.71Z M61.24,-2.78 56.80,-2.78 56.80,3.71 56.80,0.31 59.53,0.31 56.80,0.31 56.80,-2.78Z M62.27,-2.78 63.97,3.71 65.68,-2.78 67.39,3.71 69.10,-2.78 67.39,3.71 65.68,-2.78 64.14,3.40 63.97,3.71Z" stroke="#000" stroke-width="1.50" fill="none" stroke-linecap="round" stroke-linejoin="round"/>
<path transform="translate(397.45,69.70)" d="M-54.06,-6.71 -52.47,-6.71 -51.41,-6.23 -50.35,-5.27 -51.41,-6.23 -52.47,-6.71 -54.06,-6.71 -55.12,-6.23 -56.18,-5.27 -56.71,-3.83 -56.71,-2.87 -56.18,-1.44 -55.12,-0.48 -54.06,-0.00 -52.47,-0.00 -51.41,-0.48 -50.35,-1.44 -51.41,-0.48 -52.47,-0.00 -54.06,-0.00 -55.12,-0.48 -56.18,-1.44 -56.71,-2.87 -56.71,-3.83 -56.18,-5.27 -55.12,-6.23Z M-45.84,-5.97 -37.37,-5.97 M-45.84,-2.88 -37.37,-2.88 M-22.26,-10.81 -23.32,-10.30 -23.85,-9.79 -24.38,-8.76 -24.38,-8.24 -24.38,-8.76 -23.85,-9.79 -23.32,-10.30 -22.26,-10.81 -20.14,-10.81 -19.08,-10.30 -18.55,-9.79 -18.02,-8.76 -18.02,-7.73 -18.55,-6.70 -19.61,-5.15 -24.91,-0.00 -17.49,-0.00 -24.91,-0.00 -19.61,-5.15 -18.55,-6.70 -18.02,-7.73 -18.02,-8.76 -18.55,-9.79 -19.08,-10.30 -20.14,-10.81Z M-13.25,-1.03 -12.72,-0.52 -13.25,-0.00 -13.78,-0.52Z M-13.25,-1.03 -13.78,-0.52 -13.25,-0.00 -12.72,-0.52Z M-5.83,-10.81 -4.77,-10.81 -3.18,-10.30 -2.12,-8.76 -1.59,-6.18 -1.59,-4.63 -2.12,-2.06 -3.18,-0.52 -4.77,-0.00 -5.83,-0.00 -7.42,-0.52 -8.48,-2.06 -9.01,-4.63 -9.01,-6.18 -8.48,-8.76 -7.42,-10.30Z M-5.83,-10.81 -7.42,-10.30 -8.48,-8.76 -9.01,-6.18 -9.01,-4.63 -8.48,-2.06 -7.42,-0.52 -5.83,-0.00 -4.77,-0.00 -3.18,-0.52 -2.12,-2.06 -1.59,-4.63 -1.59,-6.18 -2.12,-8.76 -3.18,-10.30 -4.77,-10.81Z" stroke="#000000" stroke-width="1.15" fill="none" stroke-linecap="round" stroke-linejoin="round"/>
<path transform="translate(397.45,88.60)" d="M-54.06,-6.71 -52.47,-6.71 -51.41,-6.23 -50.35,-5.27 -51.41,-6.23 -52.47,-6.71 -54.06,-6.71 -55.12,-6.23 -56.18,-5.27 -56.71,-3.83 -56.71,-2.87 -56.18,-1.44 -55.12,-0.48 -54.06,-0.00 -52.47,-0.00 -51.41,-0.48 -50.35,-1.44 -51.41,-0.48 -52.47,-0.00 -54.06,-0.00 -55.12,-0.48 -56.18,-1.44 -56.71,-2.87 -56.71,-3.83 -56.18,-5.27 -55.12,-6.23Z M-45.84,-5.97 -37.37,-5.97 M-45.84,-2.88 -37.37,-2.88 M-19.61,-10.81 -19.61,-3.60 -24.91,-3.60Z M-19.61,-10.81 -24.91,-3.60 -19.61,-3.60 -19.61,-0.00 -19.61,-3.60 -16.96,-3.60 -19.61,-3.60Z M-13.25,-1.03 -12.72,-0.52 -13.25,-0.00 -13.78,-0.52Z M-13.25,-1.03 -13.78,-0.52 -13.25,-0.00 -12.72,-0.52Z M-5.83,-10.81 -4.77,-10.81 -3.18,-10.30 -2.12,-8.76 -1.59,-6.18 -1.59,-4.63 -2.12,-2.06 -3.18,-0.52 -4.77,-0.00 -5.83,-0.00 -7.42,-0.52 -8.48,-2.06 -9.01,-4.63 -9.01,-6.18 -8.48,-8.76 -7.42,-10.30Z M-5.83,-10.81 -7.42,-10.30 -8.48,-8.76 -9.01,-6.18 -9.01,-4.63 -8.48,-2.06 -7.42,-0.52 -5.83,-0.00 -4.77,-0.00 -3.18,-0.52 -2.12,-2.06 -1.59,-4.63 -1.59,-6.18 -2.12,-8.76 -3.18,-10.30 -4.77,-10.81Z" stroke="#0046ff" stroke-width="1.15" fill="none" stroke-linecap="round" stroke-linejoin="round"/>
<path transform="translate(397.45,107.50)" d="M-56.18,-6.71 -54.59,-6.71 -53.53,-6.23 -52.47,-5.27 -53.53,-6.23 -54.59,-6.71 -56.18,-6.71 -57.24,-6.23 -58.30,-5.27 -58.83,-3.83 -58.83,-2.87 -58.30,-1.44 -57.24,-0.48 -56.18,-0.00 -54.59,-0.00 -53.53,-0.48 -52.47,-1.44 -53.53,-0.48 -54.59,-0.00 -56.18,-0.00 -57.24,-0.48 -58.30,-1.44 -58.83,-2.87 -58.83,-3.83 -58.30,-5.27 -57.24,-6.23Z M-47.97,-5.97 -39.48,-5.97 M-47.97,-2.88 -39.48,-2.88 M-31.27,-10.81 -32.86,-9.27 -33.92,-8.76 -32.86,-9.27 -31.27,-10.81 -31.27,-0.00Z M-21.73,-10.81 -20.67,-10.81 -19.08,-10.30 -18.02,-8.76 -17.49,-6.18 -17.49,-4.63 -18.02,-2.06 -19.08,-0.52 -20.67,-0.00 -21.73,-0.00 -23.32,-0.52 -24.38,-2.06 -24.91,-4.63 -24.91,-6.18 -24.38,-8.76 -23.32,-10.30Z M-21.73,-10.81 -23.32,-10.30 -24.38,-8.76 -24.91,-6.18 -24.91,-4.63 -24.38,-2.06 -23.32,-0.52 -21.73,-0.00 -20.67,-0.00 -19.08,-0.52 -18.02,-2.06 -17.49,-4.63 -17.49,-6.18 -18.02,-8.76 -19.08,-10.30 -20.67,-10.81Z M-13.25,-1.03 -12.72,-0.52 -13.25,-0.00 -13.78,-0.52Z M-13.25,-1.03 -13.78,-0.52 -13.25,-0.00 -12.72,-0.52Z M-5.83,-10.81 -4.77,-10.81 -3.18,-10.30 -2.12,-8.76 -1.59,-6.18 -1.59,-4.63 -2.12,-2.06 -3.18,-0.52 -4.77,-0.00 -5.83,-0.00 -7.42,-0.52 -8.48,-2.06 -9.01,-4.63 -9.01,-6.18 -8.48,-8.76 -7.42,-10.30Z M-5.83,-10.81 -7.42,-10.30 -8.48,-8.76 -9.01,-6.18 -9.01,-4.63 -8.48,-2.06 -7.42,-0.52 -5.83,-0.00 -4.77,-0.00 -3.18,-0.52 -2.12,-2.06 -1.59,-4.63 -1.59,-6.18 -2.12,-8.76 -3.18,-10.30 -4.77,-10.81Z" stroke="#ff0000" stroke-width="1.15" fill="none" stroke-linecap="round" stroke-linejoin="round"/>
<path transform="translate(397.45,126.40)" d="M-56.18,-6.71 -54.59,-6.71 -53.53,-6.23 -52.47,-5.27 -53.53,-6.23 -54.59,-6.71 -56.18,-6.71 -57.24,-6.23 -58.30,-5.27 -58.83,-3.83 -58.83,-2.87 -58.30,-1.44 -57.24,-0.48 -56.18,-0.00 -54.59,-0.00 -53.53,-0.48 -52.47,-1.44 -53.53,-0.48 -54.59,-0.00 -56.18,-0.00 -57.24,-0.48 -58.30,-1.44 -58.83,-2.87 -58.83,-3.83 -58.30,-5.27 -57.24,-6.23Z M-47.97,-5.97 -39.48,-5.97 M-47.97,-2.88 -39.48,-2.88 M-32.86,-10.81 -33.92,-10.30 -34.45,-9.79 -34.98,-8.76 -34.98,-8.24 -34.98,-8.76 -34.45,-9.79 -33.92,-10.30 -32.86,-10.81 -30.74,-10.81 -29.68,-10.30 -29.15,-9.79 -28.62,-8.76 -28.62,-7.73 -29.15,-6.70 -30.21,-5.15 -35.51,-0.00 -28.09,-0.00 -35.51,-0.00 -30.21,-5.15 -29.15,-6.70 -28.62,-7.73 -28.62,-8.76 -29.15,-9.79 -29.68,-10.30 -30.74,-10.81Z M-21.73,-10.81 -20.67,-10.81 -19.08,-10.30 -18.02,-8.76 -17.49,-6.18 -17.49,-4.63 -18.02,-2.06 -19.08,-0.52 -20.67,-0.00 -21.73,-0.00 -23.32,-0.52 -24.38,-2.06 -24.91,-4.63 -24.91,-6.18 -24.38,-8.76 -23.32,-10.30Z M-21.73,-10.81 -23.32,-10.30 -24.38,-8.76 -24.91,-6.18 -24.91,-4.63 -24.38,-2.06 -23.32,-0.52 -21.73,-0.00 -20.67,-0.00 -19.08,-0.52 -18.02,-2.06 -17.49,-4.63 -17.49,-6.18 -18.02,-8.76 -19.08,-10.30 -20.67,-10.81Z M-13.25,-1.03 -12.72,-0.52 -13.25,-0.00 -13.78,-0.52Z M-13.25,-1.03 -13.78,-0.52 -13.25,-0.00 -12.72,-0.52Z M-5.83,-10.81 -4.77,-10.81 -3.18,-10.30 -2.12,-8.76 -1.59,-6.18 -1.59,-4.63 -2.12,-2.06 -3.18,-0.52 -4.77,-0.00 -5.83,-0.00 -7.42,-0.52 -8.48,-2.06 -9.01,-4.63 -9.01,-6.18 -8.48,-8.76 -7.42,-10.30Z M-5.83,-10.81 -7.42,-10.30 -8.48,-8.76 -9.01,-6.18 -9.01,-4.63 -8.48,-2.06 -7.42,-0.52 -5.83,-0.00 -4.77,-0.00 -3.18,-0.52 -2.12,-2.06 -1.59,-4.63 -1.59,-6.18 -2.12,-8.76 -3.18,-10.30 -4.77,-10.81Z" stroke="#00ff1e" stroke-width="1.15" fill="none" stroke-linecap="round" stroke-linejoin="round"/>
</svg>
</body></html>
